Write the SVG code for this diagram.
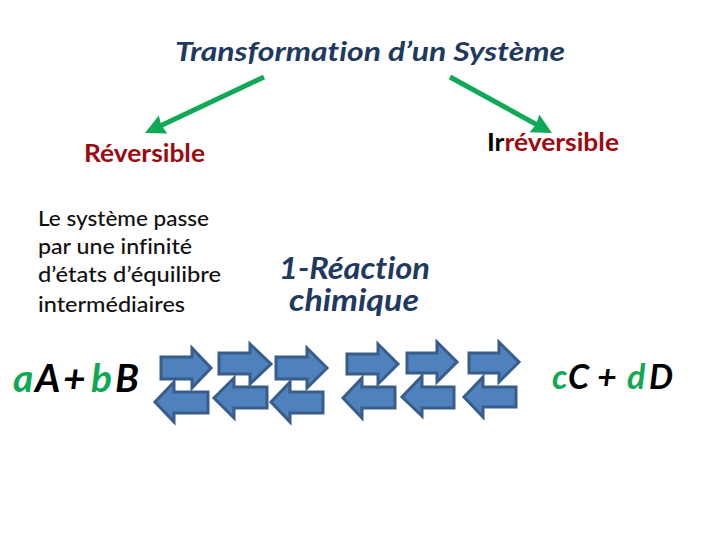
<svg xmlns="http://www.w3.org/2000/svg" width="720" height="540" viewBox="0 0 720 540">
<style>
text{font-family:Lato,"Open Sans","Liberation Sans",sans-serif;font-weight:700;font-variant-ligatures:none}
.i{font-style:italic}
.blk{fill:#000}.red{fill:#9c0a0f}.grn{fill:#10a855}
.block{fill:#4f81bd;stroke:#385d8a;stroke-width:3;stroke-linejoin:miter}
.body{fill:#111;font-size:20.5px;font-weight:500}
.g{stroke:#0fa958;stroke-width:5;fill:none;marker-end:url(#ah)}
</style>
<defs>
<marker id="ah" markerUnits="userSpaceOnUse" markerWidth="24" markerHeight="24" refX="15" refY="11" orient="auto"><path d="M0 1L20 11L0 21L2 11Z" fill="#0fa958"/></marker>
</defs>
<rect width="720" height="540" fill="#fff"/>
<g id="connectors">
<path class="g" d="M264 77L149.500 130.900"/>
<path class="g" d="M450 77L547.600 130.600"/>
</g>
<g id="title"><text class="i" x="175" y="61" font-size="27" fill="#1f3a5f" textLength="390" lengthAdjust="spacingAndGlyphs">Transformation d’un Système</text></g>
<g id="reversible"><text x="84" y="162" font-size="24" class="red" textLength="121" lengthAdjust="spacingAndGlyphs">Réversible</text></g>
<g id="irreversible"><text x="487" y="151" font-size="24" textLength="132" lengthAdjust="spacingAndGlyphs"><tspan class="blk">Ir</tspan><tspan class="red">réversible</tspan></text></g>
<g id="description">
<text class="body" x="38" y="226" textLength="171" lengthAdjust="spacingAndGlyphs">Le système passe</text>
<text class="body" x="38" y="254" textLength="154" lengthAdjust="spacingAndGlyphs">par une infinité</text>
<text class="body" x="38" y="282" textLength="183" lengthAdjust="spacingAndGlyphs">d’états d’équilibre</text>
<text class="body" x="38" y="312" textLength="147" lengthAdjust="spacingAndGlyphs">intermédiaires</text>
</g>
<g id="reaction">
<text class="i" x="279" y="279" font-size="30" fill="#1f3a5f" textLength="151" lengthAdjust="spacingAndGlyphs">1-Réaction</text>
<text class="i" x="289" y="311" font-size="30" fill="#1f3a5f" textLength="130" lengthAdjust="spacingAndGlyphs">chimique</text>
</g>
<g id="reactants"><text class="i" y="392" font-size="39"><tspan class="grn" x="13">a</tspan><tspan class="blk" x="35">A</tspan><tspan class="blk" x="63">+</tspan><tspan class="grn" x="91">b</tspan><tspan class="blk" x="115">B</tspan></text></g>
<g id="products"><text class="i" y="389" font-size="34"><tspan class="grn" x="552">c</tspan><tspan class="blk" x="568">C</tspan><tspan class="blk" x="597">+</tspan><tspan class="grn" x="627">d</tspan><tspan class="blk" x="649">D</tspan></text></g>
<g id="arrows">
<path class="block" d="M161 357H192V348L211 368L192 388V379H161Z"/>
<path class="block" d="M208 392H174V382L155 402L174 422V413H208Z"/>
<path class="block" d="M219 353H250V344L271 364L250 384V374H219Z"/>
<path class="block" d="M267 387H234V378L214 398L234 418V408H267Z"/>
<path class="block" d="M276 357H307V348L327 368L307 388V379H276Z"/>
<path class="block" d="M323 392H290V382L271 402L290 422V413H323Z"/>
<path class="block" d="M347 354H378V344L398 364L378 384V374H347Z"/>
<path class="block" d="M395 387H362V378L343 398L362 418V408H395Z"/>
<path class="block" d="M407 353H437V342L457 362L437 382V373H407Z"/>
<path class="block" d="M454 387H422V376L402 397L422 416V408H454Z"/>
<path class="block" d="M469 353H499V342L519 362L499 382V373H469Z"/>
<path class="block" d="M516 387H483V377L464 397L483 417V407H516Z"/>
</g>
</svg>
